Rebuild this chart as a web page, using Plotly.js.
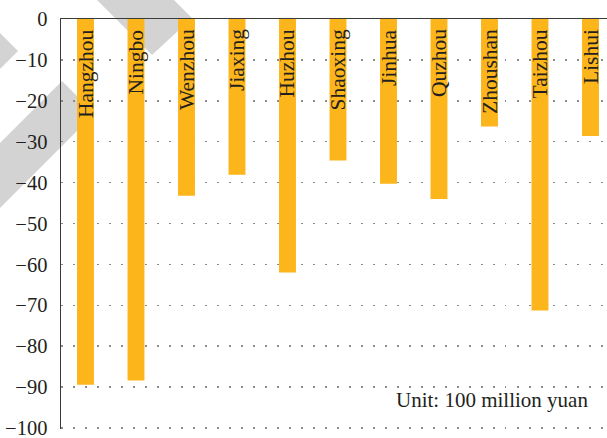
<!DOCTYPE html>
<html>
<head>
<meta charset="utf-8">
<script src="https://cdn.plot.ly/plotly-3.0.1.min.js"></script>
<style>html,body{margin:0;padding:0;background:#fff;}#chart{width:607px;height:438px;}</style>
</head>
<body>
<div id="chart"></div>
<script>
// Data
const cities = ["Hangzhou","Ningbo","Wenzhou","Jiaxing","Huzhou","Shaoxing","Jinhua","Quzhou","Zhoushan","Taizhou","Lishui"];
const values = [-89.4, -88.4, -43.2, -38.1, -62.0, -34.6, -40.3, -44.0, -26.3, -71.3, -28.6];
const yTickValues = [0, -10, -20, -30, -40, -50, -60, -70, -80, -90, -100];
const unitLabel = "Unit: 100 million yuan";

// Layout constants
const W = 607, H = 438, ML = 61, MT = 19, MB = 9, MR = 0;
const PW = W - ML - MR, PH = H - MT - MB;
const FONT = "Liberation Serif, Times New Roman, serif";
const TXT = "#231f20";

// Decorative watermark polygons (page pixels)
const watermarkPolys = [
  [[0,33],[18,51],[0,69]],
  [[97,0],[152,55],[192,18],[174,0]],
  [[0,143],[62,81],[94.5,113.5],[0,208]]
];
function px2paperX(x){ return (x - ML) / PW; }
function px2paperY(y){ return (H - MB - y) / PH; }
const shapes = watermarkPolys.map(poly => ({
  type: "path", xref: "paper", yref: "paper", layer: "below",
  path: poly.map((p, i) => (i ? "L" : "M") + px2paperX(p[0]) + "," + px2paperY(p[1])).join(" ") + " Z",
  fillcolor: "#d3d3d3", line: {width: 0}
}));

const annotations = cities.map((c, i) => ({
  x: i, y: 0, xref: "x", yref: "y", text: c, showarrow: false,
  textangle: -90, xanchor: "center", yanchor: "top", yshift: -8,
  font: {family: FONT, size: 21.5, color: TXT}
}));
annotations.push({
  x: px2paperX(590), y: px2paperY(400), xref: "paper", yref: "paper",
  text: unitLabel, showarrow: false, xanchor: "right", yanchor: "middle",
  font: {family: FONT, size: 21, color: TXT}
});

const trace = {
  type: "bar", x: cities.map((c, i) => i), y: values,
  width: 0.335, marker: {color: "#fcb51b", line: {width: 0}},
  hoverinfo: "none"
};

const layout = {
  width: W, height: H,
  margin: {l: ML, r: MR, t: MT, b: MB, pad: 0},
  paper_bgcolor: "#ffffff", plot_bgcolor: "rgba(0,0,0,0)",
  showlegend: false,
  font: {family: FONT, size: 20, color: TXT},
  xaxis: {
    range: [-0.485, 10.327], showgrid: false, zeroline: false,
    showticklabels: false, ticks: "", side: "top",
    showline: true, linecolor: "#3a3a3a", linewidth: 1.5, fixedrange: true
  },
  yaxis: {
    range: [-100.25, 0], tickvals: yTickValues,
    ticktext: yTickValues.map(v => v < 0 ? "\u2212" + Math.abs(v) : String(v)),
    ticks: "", ticklabelstandoff: 8, ticklabeloverflow: "allow",
    showgrid: true, gridcolor: "#8a8a8a", gridwidth: 1.5, griddash: "1.5px,10.5px",
    zeroline: false, showline: true, linecolor: "#3a3a3a", linewidth: 1.5,
    tickfont: {family: FONT, size: 20.5, color: TXT}, fixedrange: true
  },
  shapes: shapes,
  annotations: annotations
};

Plotly.newPlot("chart", [trace], layout, {displayModeBar: false, staticPlot: true});
</script>
</body>
</html>
